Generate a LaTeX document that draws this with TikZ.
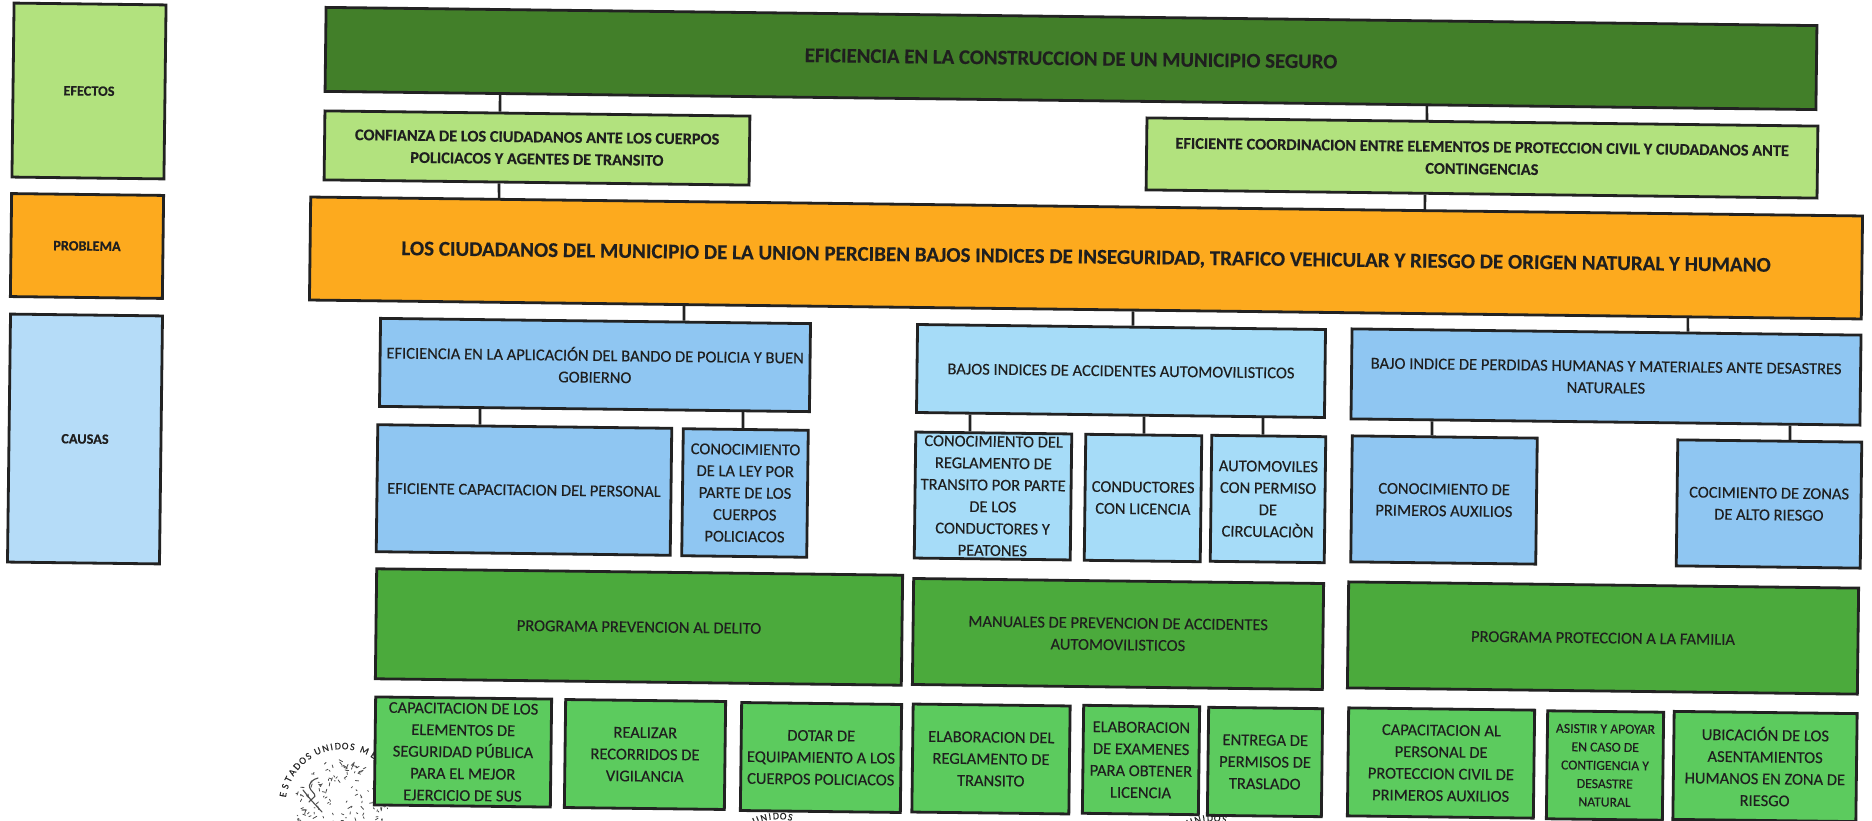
\documentclass[tikz,border=0pt]{standalone}
\usepackage{fontspec}
\setmainfont{Carlito}[FakeBold=0.25]
\usetikzlibrary{calc}
\definecolor{cDark}{HTML}{427F29}
\definecolor{cLime}{HTML}{B2E27E}
\definecolor{cOrange}{HTML}{FDAA1E}
\definecolor{cPale}{HTML}{B5DCF8}
\definecolor{cBlue}{HTML}{8FC6F2}
\definecolor{cSky}{HTML}{A6DCF8}
\definecolor{cGreen}{HTML}{4BAA3C}
\definecolor{cMint}{HTML}{5CCB5E}
\definecolor{cInk}{HTML}{222222}
\tikzset{
 box/.style={draw=cInk,line width=2.8pt,inner sep=0pt,align=center,text=black!88,rotate=-0.7,font=\fontsize{16.5}{21.8}\selectfont},
 dark/.style={box,fill=cDark,font=\fontsize{20.8}{24}\selectfont\bfseries},
 lime/.style={box,fill=cLime,font=\fontsize{16.3}{22}\selectfont\bfseries},
 orange/.style={box,fill=cOrange,font=\fontsize{21}{26}\selectfont\bfseries},
 pale/.style={box,fill=cPale},
 blue/.style={box,fill=cBlue},
 sky/.style={box,fill=cSky},
 green/.style={box,fill=cGreen},
 mint/.style={box,fill=cMint},
 leg/.style={font=\fontsize{14.3}{16}\selectfont\bfseries},
 conn/.style={draw=cInk,line width=2.6pt},
 sealtext/.style={font=\fontsize{10}{11}\selectfont,text=black!85,inner sep=0pt},
 speck/.style={draw=black!70,line width=0.8pt,line cap=round},
}
% connector: vertical at picture abscissa #3 from the lower edge of #1 to the upper edge of #2
\newcommand{\conn}[3]{\coordinate (cx) at (#3,0);
 \draw[conn] ($(#1.south west)!(#1.south -| cx)!(#1.south east)$) -- ($(#2.north west)!(#2.north -| cx)!(#2.north east)$);}
% letter on a seal ring: centre, radius, letter, angle
\newcommand{\sealletter}[4]{\node[sealtext,rotate=#4-90] at ($(#1)+({cos(#4)*#2},{-sin(#4)*#2})$) {#3};}
\begin{document}
\begin{tikzpicture}[x=1pt,y=-1pt]
\useasboundingbox[fill=white] (0,0) rectangle (1872,821);
% seals (behind the boxes)
\coordinate (sealA) at (342,806);
\coordinate (sealB) at (778,875);
\coordinate (sealC) at (1212,877);
\foreach \l/\a in {E/169,S/161,T/153.5,A/146,D/138.5,O/131,S/124,U/114,N/106,I/100,D/94,O/87,S/80,M/68,E/58}{\sealletter{sealA}{60}{\l}{\a}}
\foreach \l/\a in {U/112,N/104,I/98,D/92,O/85,S/78}{\sealletter{sealB}{59}{\l}{\a}}
\foreach \l/\a in {U/112,N/104,I/98,D/92,O/85,S/78}{\sealletter{sealC}{59}{\l}{\a}}
\pgfmathsetseed{11}
\foreach \i in {1,...,170}{
 \pgfmathsetmacro{\ra}{6+41*sqrt(rnd)}
 \pgfmathsetmacro{\th}{360*rnd}
 \pgfmathsetmacro{\tu}{360*rnd}
 \pgfmathsetmacro{\ln}{1+3.5*rnd}
 \draw[speck] ($(sealA)+({\ra*cos(\th)},{\ra*sin(\th)})$) -- ++({\ln*cos(\tu)},{\ln*sin(\tu)});
}
\draw[speck,line width=1.1pt] (309,802) .. controls (315,795) and (318,798) .. (311,790) .. controls (306,783) and (314,779) .. (318,778);
\draw[speck,line width=1.1pt] (303,790) -- (311,800) -- (322,812);
% legend
\node[box,leg,fill=cLime,minimum width=152pt,minimum height=174pt] (lgA) at (89,91) {EFECTOS};
\node[box,leg,fill=cOrange,minimum width=152pt,minimum height=103pt] (lgB) at (87,246) {PROBLEMA};
\node[pale,leg,minimum width=152pt,minimum height=248pt] (lgC) at (85,439) {CAUSAS};
% effects
\node[dark,minimum width=1491pt,minimum height=84pt] (top) at (1071,58.5) {EFICIENCIA EN LA CONSTRUCCION DE UN MUNICIPIO SEGURO};
\node[lime,minimum width=425pt,minimum height=69pt] (ef1) at (537,148) {CONFIANZA DE LOS CIUDADANOS ANTE LOS CUERPOS\\POLICIACOS Y AGENTES DE TRANSITO};
\node[lime,minimum width=671pt,minimum height=72pt] (ef2) at (1482,158) {EFICIENTE COORDINACION ENTRE ELEMENTOS DE PROTECCION CIVIL Y CIUDADANOS ANTE\\CONTINGENCIAS};
% problem
\node[orange,minimum width=1552pt,minimum height=103pt] (prob) at (1086,258) {LOS CIUDADANOS DEL MUNICIPIO DE LA UNION PERCIBEN BAJOS INDICES DE INSEGURIDAD, TRAFICO VEHICULAR Y RIESGO DE ORIGEN NATURAL Y HUMANO};
% causes
\node[blue,minimum width=430pt,minimum height=88pt] (c1) at (595,365) {EFICIENCIA EN LA APLICACIÓN DEL BANDO DE POLICIA Y BUEN\\GOBIERNO};
\node[sky,minimum width=408pt,minimum height=88pt] (c2) at (1121,371) {BAJOS INDICES DE ACCIDENTES AUTOMOVILISTICOS};
\node[blue,minimum width=509pt,minimum height=90pt] (c3) at (1606,377) {BAJO INDICE DE PERDIDAS HUMANAS Y MATERIALES ANTE DESASTRES\\NATURALES};
\node[blue,minimum width=294pt,minimum height=127pt] (d1) at (524,490) {EFICIENTE CAPACITACION DEL PERSONAL};
\node[blue,minimum width=125pt,minimum height=127pt] (d2) at (745,493) {CONOCIMIENTO\\DE LA LEY POR\\PARTE DE LOS\\CUERPOS\\POLICIACOS};
\node[sky,minimum width=156pt,minimum height=126pt] (d3) at (993,496) {CONOCIMIENTO DEL\\REGLAMENTO DE\\TRANSITO POR PARTE\\DE LOS\\CONDUCTORES Y\\PEATONES};
\node[sky,minimum width=116pt,minimum height=126pt] (d4) at (1143,498) {CONDUCTORES\\CON LICENCIA};
\node[sky,minimum width=114pt,minimum height=126pt] (d5) at (1268,499) {AUTOMOVILES\\CON PERMISO\\DE\\CIRCULACIÒN};
\node[blue,minimum width=185pt,minimum height=126pt] (d6) at (1444,500) {CONOCIMIENTO DE\\PRIMEROS AUXILIOS};
\node[blue,minimum width=184pt,minimum height=126pt] (d7) at (1769,504) {COCIMIENTO DE ZONAS\\DE ALTO RIESGO};
% programmes
\node[green,minimum width=526pt,minimum height=110pt] (p1) at (639,627) {PROGRAMA PREVENCION AL DELITO};
\node[green,minimum width=410pt,minimum height=106pt] (p2) at (1118,634) {MANUALES DE PREVENCION DE ACCIDENTES\\AUTOMOVILISTICOS};
\node[green,minimum width=510pt,minimum height=106pt] (p3) at (1603,638) {PROGRAMA PROTECCION A LA FAMILIA};
% actions
\node[mint,minimum width=176pt,minimum height=108pt] (a1) at (463,752) {CAPACITACION DE LOS\\ELEMENTOS DE\\SEGURIDAD PÚBLICA\\PARA EL MEJOR\\EJERCICIO DE SUS};
\node[mint,minimum width=160pt,minimum height=108pt] (a2) at (645,754.5) {REALIZAR\\RECORRIDOS DE\\VIGILANCIA};
\node[mint,minimum width=160pt,minimum height=108pt] (a3) at (821,757.5) {DOTAR DE\\EQUIPAMIENTO A LOS\\CUERPOS POLICIACOS};
\node[mint,minimum width=157pt,minimum height=108pt] (a4) at (991,759) {ELABORACION DEL\\REGLAMENTO DE\\TRANSITO};
\node[mint,minimum width=116pt,minimum height=108pt] (a5) at (1141,760) {ELABORACION\\DE EXAMENES\\PARA OBTENER\\LICENCIA};
\node[mint,minimum width=114pt,minimum height=108pt] (a6) at (1265,762) {ENTREGA DE\\PERMISOS DE\\TRASLADO};
\node[mint,minimum width=186pt,minimum height=108pt] (a7) at (1441,763) {CAPACITACION AL\\PERSONAL DE\\PROTECCION CIVIL DE\\PRIMEROS AUXILIOS};
\node[mint,font=\fontsize{13.7}{18.3}\selectfont,minimum width=116pt,minimum height=108pt] (a8) at (1605,765.5) {ASISTIR Y APOYAR\\EN CASO DE\\CONTIGENCIA Y\\DESASTRE\\NATURAL};
\node[mint,minimum width=183pt,minimum height=108pt] (a9) at (1765,766.5) {UBICACIÓN DE LOS\\ASENTAMIENTOS\\HUMANOS EN ZONA DE\\RIESGO};
% connectors
\conn{top}{ef1}{500}
\conn{top}{ef2}{1427}
\conn{ef1}{prob}{499}
\conn{ef2}{prob}{1425}
\conn{prob}{c1}{684}
\conn{prob}{c2}{1133}
\conn{prob}{c3}{1688}
\conn{c1}{d1}{480}
\conn{c1}{d2}{743}
\conn{c2}{d3}{970}
\conn{c2}{d4}{1144}
\conn{c2}{d5}{1263}
\conn{c3}{d6}{1432}
\conn{c3}{d7}{1790}
\end{tikzpicture}
\end{document}
